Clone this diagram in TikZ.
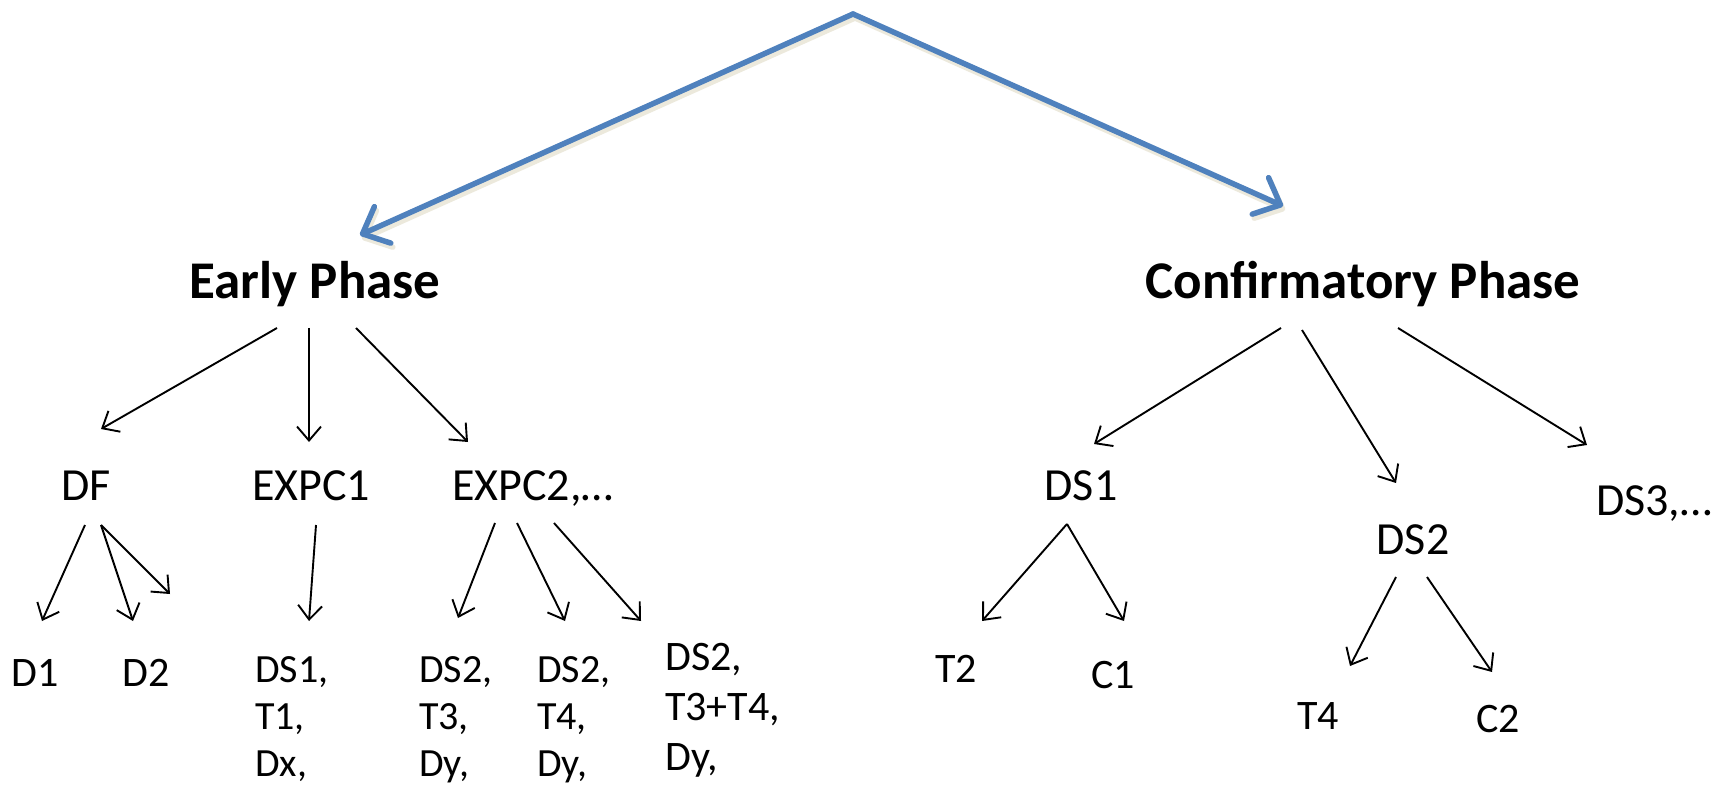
\documentclass[tikz,border=0pt]{standalone}
\usepackage{fontspec}
\setmainfont{Carlito}
\usetikzlibrary{arrows.meta}
\definecolor{phaseblue}{RGB}{79,129,189}
\definecolor{shadowc}{RGB}{236,233,220}
\tikzset{
  lbl/.style={inner sep=0pt, anchor=base, font=\fontsize{46}{55}\selectfont},
  small/.style={inner sep=0pt, anchor=base west, align=left, font=\fontsize{40}{47}\selectfont},
  title/.style={inner sep=0pt, anchor=base, font=\fontsize{53}{64}\selectfont\bfseries},
  thin/.style={line width=1.9pt, -{Straight Barb[length=14pt,width=24pt,line width=1.9pt]}},
  bluearr/.style={line width=5.5pt, phaseblue, line cap=round, line join=round,
     -{Straight Barb[length=22pt,width=40pt,line width=5.5pt, round]}},
  shadowarr/.style={line width=5.5pt, shadowc, line cap=round, line join=round,
     -{Straight Barb[length=22pt,width=40pt,line width=5.5pt, round]}}
}
\begin{document}
\begin{tikzpicture}[x=1pt,y=-1pt]
\useasboundingbox (0,0) rectangle (1726,791);
\fill[white] (0,0) rectangle (1726,791);
% top blue arrows
\coordinate (apex) at (853,14);
\coordinate (ltip) at (360,235);
\coordinate (rtip) at (1283,206);
\draw[shadowarr] ([shift={(2,4)}]apex) -- ([shift={(2,4)}]ltip);
\draw[shadowarr] ([shift={(2,4)}]apex) -- ([shift={(2,4)}]rtip);
\draw[bluearr] (apex) -- (ltip);
\draw[bluearr] (apex) -- (rtip);
% titles
\node[title] (early) at (315,299) {Early Phase};
\node[title] (conf) at (1363,299) {Confirmatory Phase};
% early phase level 1
\node[lbl] (df) at (86,500) {DF};
\node[lbl] (expc1) at (311,500) {EXPC1};
\node[lbl, anchor=base west] (expc2) at (452,500) {EXPC2,…};
% early phase leaves (anchor at baseline of last line)
\node[lbl, font=\fontsize{42}{50}\selectfont] (d1) at (35,686) {D1};
\node[lbl, font=\fontsize{42}{50}\selectfont] (d2) at (146,686) {D2};
\node[small] (l1) at (255,776) {DS1,\\T1,\\Dx,};
\node[small] (l2) at (419,776) {DS2,\\T3,\\Dy,};
\node[small] (l3) at (537,776) {DS2,\\T4,\\Dy,};
\node[small, font=\fontsize{42}{50}\selectfont] (l4) at (665,770) {DS2,\\T3+T4,\\Dy,};
% confirmatory
\node[lbl] (ds1) at (1081,500) {DS1};
\node[lbl] (ds2) at (1413,554) {DS2};
\node[lbl, anchor=base west] (ds3) at (1596,515) {DS3,…};
\node[lbl, font=\fontsize{42}{50}\selectfont] (t2) at (956,682) {T2};
\node[lbl, font=\fontsize{42}{50}\selectfont] (c1) at (1113,688) {C1};
\node[lbl, font=\fontsize{42}{50}\selectfont] (t4) at (1318,729) {T4};
\node[lbl, font=\fontsize{42}{50}\selectfont] (c2) at (1498,732) {C2};
% connector end points
\coordinate (eA) at (277,328); \coordinate (eB) at (309,328); \coordinate (eC) at (356,328);
\coordinate (dfA) at (101,429); \coordinate (x1A) at (309,442); \coordinate (x2A) at (468,442);
\coordinate (dfs1) at (85,525); \coordinate (dfs2) at (101,525);
\coordinate (d1A) at (42,621); \coordinate (d2A) at (133,621); \coordinate (dxA) at (170,594);
\coordinate (x1s) at (316,525); \coordinate (l1A) at (309,621);
\coordinate (x2s1) at (495,523); \coordinate (x2s2) at (517,523); \coordinate (x2s3) at (554,523);
\coordinate (l2A) at (458,618); \coordinate (l3A) at (565,621); \coordinate (l4A) at (641,621);
\coordinate (cA) at (1281,328); \coordinate (cB) at (1302,330); \coordinate (cC) at (1398,328);
\coordinate (ds1A) at (1094,444); \coordinate (ds2A) at (1396,483); \coordinate (ds3A) at (1587,445);
\coordinate (ds1s) at (1067,524);
\coordinate (t2A) at (982,621); \coordinate (c1A) at (1124,621);
\coordinate (ds2s1) at (1396,577); \coordinate (ds2s2) at (1427,577);
\coordinate (t4A) at (1350,666); \coordinate (c2A) at (1492,672);
% connectors
\draw[thin] (eA) -- (dfA);
\draw[thin] (eB) -- (x1A);
\draw[thin] (eC) -- (x2A);
\draw[thin] (dfs1) -- (d1A);
\draw[thin] (dfs2) -- (d2A);
\draw[thin] (dfs2) -- (dxA);
\draw[thin] (x1s) -- (l1A);
\draw[thin] (x2s1) -- (l2A);
\draw[thin] (x2s2) -- (l3A);
\draw[thin] (x2s3) -- (l4A);
\draw[thin] (cA) -- (ds1A);
\draw[thin] (cB) -- (ds2A);
\draw[thin] (cC) -- (ds3A);
\draw[thin] (ds1s) -- (t2A);
\draw[thin] (ds1s) -- (c1A);
\draw[thin] (ds2s1) -- (t4A);
\draw[thin] (ds2s2) -- (c2A);
\end{tikzpicture}
\end{document}
